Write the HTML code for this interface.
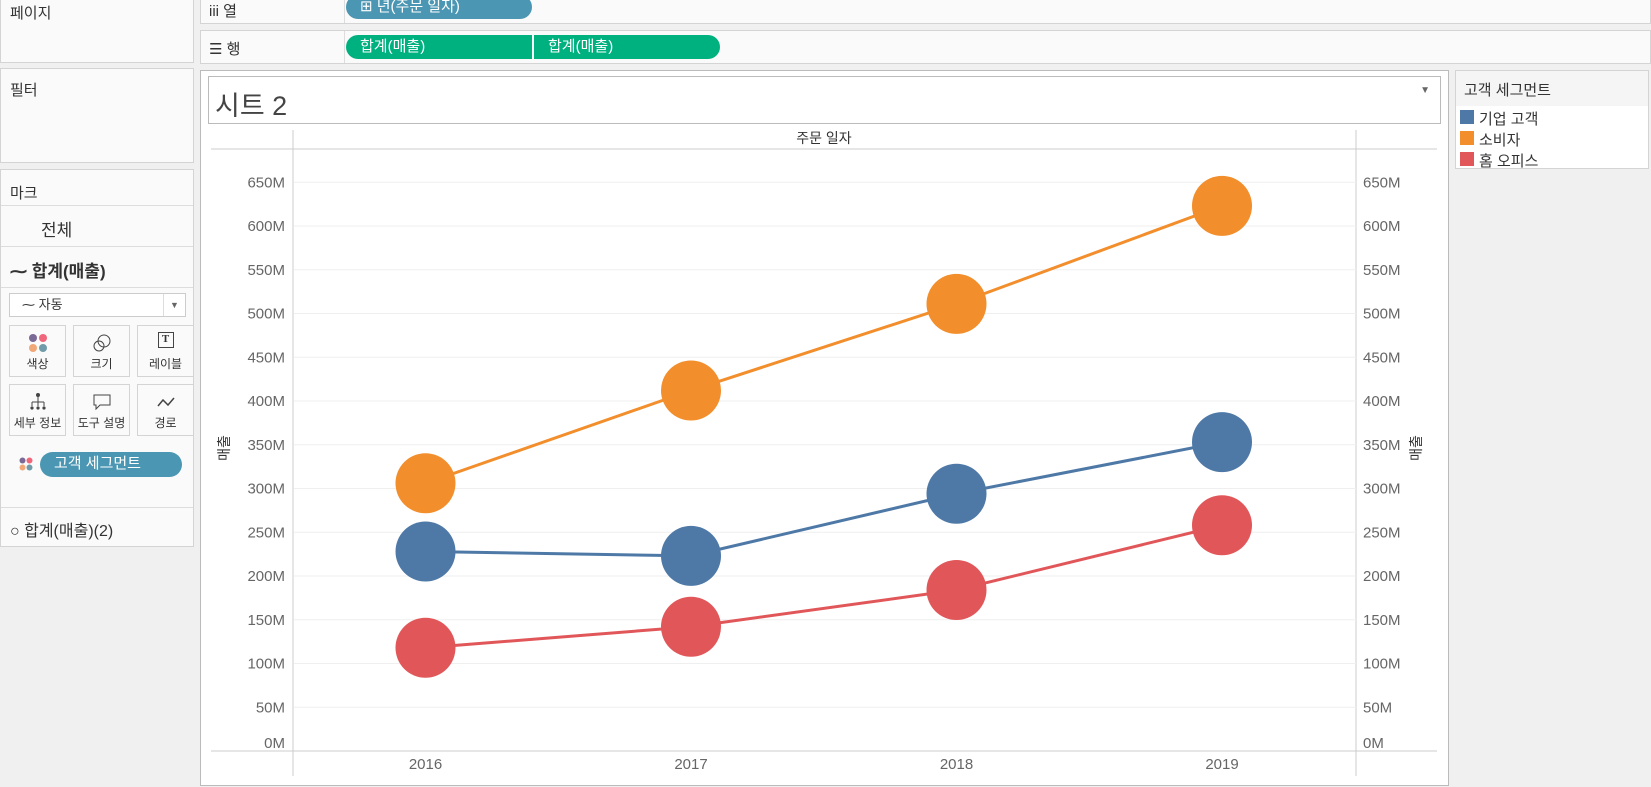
<!DOCTYPE html>
<html><head><meta charset="utf-8">
<style>
*{box-sizing:border-box;margin:0;padding:0}
body{width:1651px;height:787px;background:#f0f0f0;font-family:"Liberation Sans","Noto Sans CJK KR",sans-serif;color:#333;position:relative;overflow:hidden}
.box{position:absolute;background:#fafafa;border:1px solid #d4d4d4}
.t{position:absolute;font-size:15px;white-space:nowrap}
.pill{position:absolute;color:#fff;font-size:15px;padding-left:14px;line-height:24px}
.card{position:absolute;width:57px;height:52px;border:1px solid #d4d4d4;background:#fafafa;font-size:12px;text-align:center}
.card span{position:absolute;left:0;right:0;bottom:4px}
</style></head><body>
<div class="box" style="left:0;top:-1px;width:194px;height:64px"><div class="t" style="left:9px;top:2px">페이지</div></div>
<div class="box" style="left:0;top:68px;width:194px;height:95px"><div class="t" style="left:9px;top:10px">필터</div></div>
<div class="box" style="left:0;top:169px;width:194px;height:378px">
 <div class="t" style="left:9px;top:12px">마크</div>
 <div style="position:absolute;left:0;right:0;top:35px;border-top:1px solid #ddd"></div>
 <div class="t" style="left:40px;top:46px;font-size:17px">전체</div>
 <div style="position:absolute;left:0;right:0;top:76px;border-top:1px solid #ddd"></div>
 <div class="t" style="left:9px;top:87px;font-size:17px;font-weight:bold">⁓ 합계(매출)</div>
 <div style="position:absolute;left:0;right:0;top:117px;border-top:1px solid #ddd"></div>
 <div style="position:absolute;left:8px;top:123px;width:177px;height:24px;border:1px solid #ccc;background:#fff;font-size:13px;line-height:22px;padding-left:12px">⁓ 자동<span style="position:absolute;right:0;top:0;width:22px;border-left:1px solid #ddd;text-align:center;font-size:9px;color:#666">▼</span></div>
 <div class="card" style="left:8px;top:155px"><svg width="20" height="20" style="margin-top:7px"><circle cx="5" cy="5" r="4" fill="#7b6a95"/><circle cx="15" cy="5" r="4" fill="#f0667b"/><circle cx="5" cy="15" r="4" fill="#f0a878"/><circle cx="15" cy="15" r="4" fill="#6f9ca8"/></svg><span>색상</span></div>
 <div class="card" style="left:72px;top:155px"><svg width="20" height="20" style="margin-top:7px"><circle cx="12" cy="8" r="6" fill="none" stroke="#444"/><circle cx="7" cy="13" r="5" fill="none" stroke="#444"/></svg><span>크기</span></div>
 <div class="card" style="left:136px;top:155px"><div style="margin:6px auto 0;width:16px;height:16px;border:1.5px solid #444;font:bold 11px 'Liberation Serif',serif;line-height:13px">T</div><span>레이블</span></div>
 <div class="card" style="left:8px;top:214px"><svg width="20" height="20" style="margin-top:7px"><circle cx="10" cy="3" r="2" fill="#444"/><path d="M10 4v6M4 10h12M4 10v4M10 10v4M16 10v4" stroke="#444" fill="none"/><circle cx="4" cy="16" r="1.6" fill="#444"/><circle cx="10" cy="16" r="1.6" fill="#444"/><circle cx="16" cy="16" r="1.6" fill="#444"/></svg><span>세부 정보</span></div>
 <div class="card" style="left:72px;top:214px"><svg width="20" height="20" style="margin-top:7px"><path d="M2 3h16v10H8l-4 4v-4H2z" fill="none" stroke="#444"/></svg><span>도구 설명</span></div>
 <div class="card" style="left:136px;top:214px"><svg width="20" height="20" style="margin-top:7px"><path d="M2 14l5-6 5 5 6-7" fill="none" stroke="#444" stroke-width="1.5"/></svg><span>경로</span></div>
 <svg style="position:absolute;left:18px;top:287px" width="14" height="14"><circle cx="3.5" cy="3.5" r="3" fill="#7b6a95"/><circle cx="10.5" cy="3.5" r="3" fill="#f0667b"/><circle cx="3.5" cy="10.5" r="3" fill="#f0a878"/><circle cx="10.5" cy="10.5" r="3" fill="#6f9ca8"/></svg>
 <div class="pill" style="left:39px;top:282px;width:142px;height:25px;border-radius:13px;background:#4b96b3;padding-left:14px">고객 세그먼트</div>
 <div style="position:absolute;left:0;right:0;top:337px;border-top:1px solid #ddd"></div>
 <div class="t" style="left:9px;top:347px;font-size:16px">○ 합계(매출)(2)</div>
</div>
<div class="box" style="left:200px;top:-1px;width:1451px;height:25px"><div class="t" style="left:8px;top:0px">iii 열</div><div style="position:absolute;left:143px;top:0;bottom:0;border-left:1px solid #ddd"></div></div>
<div class="pill" style="left:346px;top:-5px;width:186px;height:24px;border-radius:12px;background:#4b96b3">⊞ 년(주문 일자)</div>
<div class="box" style="left:200px;top:30px;width:1451px;height:34px"><div class="t" style="left:8px;top:7px">☰ 행</div><div style="position:absolute;left:143px;top:0;bottom:0;border-left:1px solid #ddd"></div></div>
<div class="pill" style="left:346px;top:35px;width:186px;height:24px;border-radius:12px 0 0 12px;background:#00b180">합계(매출)</div>
<div class="pill" style="left:534px;top:35px;width:186px;height:24px;border-radius:0 12px 12px 0;background:#00b180">합계(매출)</div>
<div style="position:absolute;left:200px;top:70px;width:1249px;height:716px;background:#fff;border:1px solid #bbb"></div>
<div style="position:absolute;left:208px;top:76px;width:1233px;height:48px;border:1px solid #bbb;background:#fff"><div class="t" style="left:6px;top:7px;font-size:27px;color:#444">시트 2</div><div class="t" style="right:10px;top:8px;font-size:10px;color:#666">▼</div></div>
<div class="box" style="left:1455px;top:70px;width:194px;height:99px;background:#fff">
 <div style="position:absolute;left:0;right:0;top:0;height:35px;background:#f5f5f5"></div>
 <div class="t" style="left:8px;top:8px">고객 세그먼트</div>
 <div><div style="position:absolute;left:4px;top:39px;width:14px;height:14px;background:#4e79a7"></div><div class="t" style="left:23px;top:37px">기업 고객</div></div>
 <div><div style="position:absolute;left:4px;top:60px;width:14px;height:14px;background:#f28e2b"></div><div class="t" style="left:23px;top:58px">소비자</div></div>
 <div><div style="position:absolute;left:4px;top:81px;width:14px;height:14px;background:#e15759"></div><div class="t" style="left:23px;top:79px">홈 오피스</div></div>
</div>
<svg id="chart" style="position:absolute;left:0;top:0" width="1651" height="787" font-family="Liberation Sans, Noto Sans CJK KR, sans-serif"></svg>
<script>
const years=["2016","2017","2018","2019"];
const corporate=[228,223,294,353];
const consumer=[306,412,511,623];
const homeOffice=[118,142,184,258];
const ticks=[0,50,100,150,200,250,300,350,400,450,500,550,600,650];
const colors=["#4e79a7","#f28e2b","#e15759"];
const names=["corporate","consumer","home-office"];
const svg=document.getElementById('chart');
const NS="http://www.w3.org/2000/svg";
const y=v=>751-v*0.875;
const x=i=>425.5+i*265.5;
function mk(tag,attrs,parent){const e=document.createElementNS(NS,tag);for(const k in attrs)e.setAttribute(k,attrs[k]);(parent||svg).appendChild(e);return e;}
// structure lines
let l;
l=mk('line',{x1:211,x2:1437,y1:149,y2:149,stroke:'#ccc'});
l=mk('line',{x1:211,x2:1437,y1:751,y2:751,stroke:'#ccc'});
l=mk('line',{x1:293,x2:293,y1:130,y2:776,stroke:'#ccc'});
l=mk('line',{x1:1356,x2:1356,y1:130,y2:776,stroke:'#ccc'});
let h=mk('text',{x:824,y:143,'text-anchor':'middle','font-size':14,fill:'#333'});h.textContent='주문 일자';

ticks.forEach(t=>{
  if(t>0){const g=mk('line',{x1:294,x2:1356,y1:y(t),y2:y(t),stroke:'#efefef'});
  }
  const a=mk('text',{x:285,y:y(t)+(t==0?-3:5),'text-anchor':'end','font-size':15,fill:'#666'});a.textContent=t+'M';
  
  const b=mk('text',{x:1363,y:y(t)+(t==0?-3:5),'font-size':15,fill:'#666'});b.textContent=t+'M';
  
});
years.forEach((yr,i)=>{const t=mk('text',{x:x(i),y:769,'text-anchor':'middle','font-size':15,fill:'#666'});t.textContent=yr;
});
let at=mk('text',{x:229,y:448,'text-anchor':'middle','font-size':14,fill:'#333',transform:'rotate(-90 229 448)'});at.textContent='매출';

at=mk('text',{x:1421,y:448,'text-anchor':'middle','font-size':14,fill:'#333',transform:'rotate(-90 1421 448)'});at.textContent='매출';

[corporate,consumer,homeOffice].forEach((s,k)=>{
  const p=mk('polyline',{points:s.map((v,i)=>x(i)+','+y(v)).join(' '),fill:'none',stroke:colors[k],'stroke-width':3});
  
});
[corporate,consumer,homeOffice].forEach((s,k)=>{
  s.forEach((v,i)=>{const c=mk('circle',{cx:x(i),cy:y(v),r:30,fill:colors[k]});
  
  });
});
</script>
</body></html>
